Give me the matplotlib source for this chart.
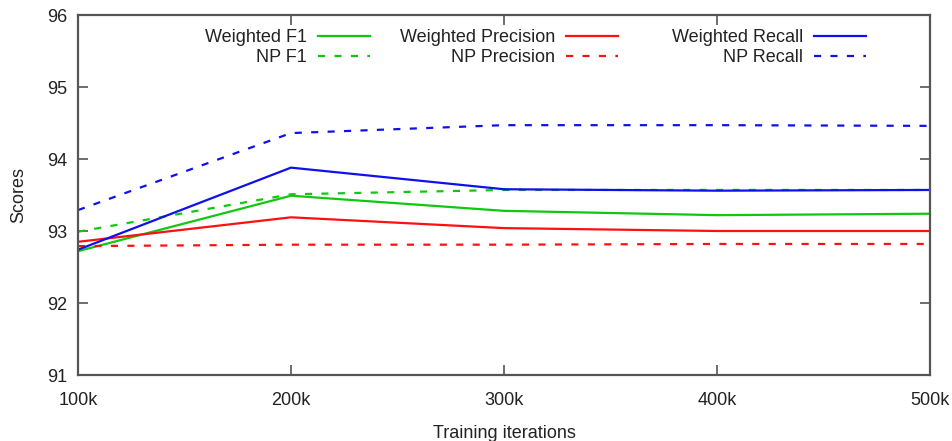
import numpy as np
import matplotlib
matplotlib.use("Agg")
import matplotlib.pyplot as plt

# training iterations (thousands) and scores
iters = [100, 200, 300, 400, 500]
iter_labels = ["100k", "200k", "300k", "400k", "500k"]

w_f1 = [92.72, 93.49, 93.28, 93.22, 93.24]
np_f1 = [92.99, 93.51, 93.57, 93.57, 93.57]
w_prec = [92.85, 93.19, 93.04, 93.00, 93.00]
np_prec = [92.79, 92.81, 92.81, 92.82, 92.82]
w_rec = [92.74, 93.88, 93.58, 93.56, 93.57]
np_rec = [93.29, 94.36, 94.47, 94.47, 94.46]

green = "#10c810"
red = "#ff1010"
blue = "#1010ee"
frame = "#555555"

plt.rcParams["font.family"] = ["Liberation Sans", "DejaVu Sans"]
plt.rcParams["font.size"] = 13

fig = plt.figure(figsize=(9.52, 4.41), dpi=100)
ax = fig.add_axes([78 / 952, 66 / 441, 852 / 952, 360 / 441])

lw = 1.6
dash = (3.2, 4.2)
l1, = ax.plot(iters, w_f1, color=green, lw=lw, label="Weighted F1")
l2, = ax.plot(iters, np_f1, color=green, lw=lw, dashes=dash, label="NP F1")
l3, = ax.plot(iters, w_prec, color=red, lw=lw, label="Weighted Precision")
l4, = ax.plot(iters, np_prec, color=red, lw=lw, dashes=dash, label="NP Precision")
l5, = ax.plot(iters, w_rec, color=blue, lw=lw, label="Weighted Recall")
l6, = ax.plot(iters, np_rec, color=blue, lw=lw, dashes=dash, label="NP Recall")

ax.set_xlim(100, 500)
ax.set_ylim(91, 96)
ax.set_xticks(iters)
ax.set_xticklabels(iter_labels)
ax.set_yticks(np.arange(91, 97, 1))

ax.tick_params(direction="in", length=7, width=1.2, color=frame,
               top=True, right=True, labelcolor="#222222", pad=8)
ax.tick_params(axis="x", pad=12)
for s in ax.spines.values():
    s.set_color(frame)
    s.set_linewidth(1.6)

ax.set_xlabel("Training iterations", color="#222222", labelpad=12)
ax.set_ylabel("Scores", color="#222222", labelpad=14)

# gnuplot style key: three equal-width columns, text right-aligned before the sample
groups = [(l1, l2), (l3, l4), (l5, l6)]
anchors = [0.3596, 0.6507, 0.9418]
for i, (grp, xa) in enumerate(zip(groups, anchors)):
    leg = ax.legend(handles=list(grp), loc="upper right", bbox_to_anchor=(xa, 1.0),
                    frameon=False, markerfirst=False, handlelength=2.9,
                    handletextpad=0.6, labelspacing=0.15, borderaxespad=0.4)
    for t in leg.get_texts():
        t.set_color("#222222")
    if i < len(groups) - 1:
        ax.add_artist(leg)

fig.savefig("out.png", dpi=100)
